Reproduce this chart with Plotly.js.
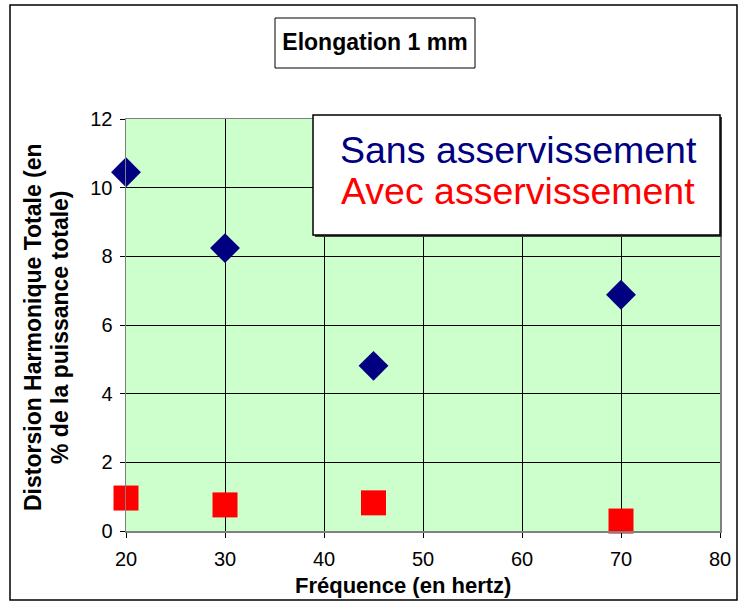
<!DOCTYPE html>
<html><head><meta charset="utf-8">
<script src="https://cdn.plot.ly/plotly-3.0.1.min.js"></script>
<style>html,body{margin:0;padding:0;background:#fff}</style>
</head><body><div id="chart" style="width:742px;height:610px"></div>
<script>
var frequences = [20, 30, 45, 70];
var sansAsserv = [10.45, 8.24, 4.81, 6.88];
var avecAsserv = [0.96, 0.76, 0.82, 0.29];
var xTicks = [20, 30, 40, 50, 60, 70, 80];
var yTicks = [0, 2, 4, 6, 8, 10, 12];
var serieNames = ['Sans asservissement', 'Avec asservissement'];
var serieColors = ['#000080', '#FF0000'];
var titleText = 'Elongation 1 mm';
var xTitle = 'Fréquence (en hertz)';
var yTitleLines = ['Distorsion Harmonique Totale (en', '% de la puissance totale)'];

var L = 126, R = 720, T = 119, B = 531, W = 742, H = 610;
function px(x) { return (x - L) / (R - L); }
function py(y) { return (B - y) / (B - T); }
var F = 'Liberation Sans, Arial, sans-serif';

var traces = [
  {x: frequences, y: sansAsserv, name: serieNames[0], type: 'scatter', mode: 'markers',
   marker: {symbol: 'diamond', size: 23, color: serieColors[0]}, cliponaxis: false},
  {x: frequences, y: avecAsserv, name: serieNames[1], type: 'scatter', mode: 'markers',
   marker: {symbol: 'square', size: 25, color: serieColors[1]}, cliponaxis: false}
];

var layout = {
  width: W, height: H,
  margin: {l: L, r: W - R, t: T, b: H - B, pad: 0},
  paper_bgcolor: '#FFFFFF', plot_bgcolor: '#CCFFCC',
  showlegend: false,
  font: {family: F, size: 21, color: '#000'},
  title: {text: '<b>' + titleText + '</b>', xref: 'paper', x: px(375), xanchor: 'center',
          yref: 'container', y: 1 - 42 / H, yanchor: 'middle',
          font: {family: F, size: 23, color: '#000'}},
  xaxis: {range: [20, 80], tickvals: xTicks, ticktext: xTicks.map(String),
          showgrid: true, gridcolor: '#000', gridwidth: 1,
          showline: true, linecolor: '#808080', linewidth: 1.5, mirror: true,
          ticks: 'outside', ticklen: 5, tickcolor: '#000', zeroline: false,
          ticklabelstandoff: 4,
          tickfont: {family: F, size: 20}, fixedrange: true},
  yaxis: {range: [0, 12], tickvals: yTicks, ticktext: yTicks.map(String),
          showgrid: true, gridcolor: '#000', gridwidth: 1,
          showline: true, linecolor: '#808080', linewidth: 1.5, mirror: true,
          ticks: 'outside', ticklen: 5, tickcolor: '#000', zeroline: false,
          ticklabelstandoff: 3,
          tickfont: {family: F, size: 20}, fixedrange: true},
  shapes: [
    {type: 'rect', xref: 'paper', yref: 'paper', x0: px(10), x1: px(737), y0: py(600), y1: py(5),
     line: {color: '#000', width: 1.5}, fillcolor: 'rgba(0,0,0,0)', layer: 'below'},
    {type: 'rect', xref: 'paper', yref: 'paper', x0: px(275), x1: px(475), y0: py(68), y1: py(18),
     line: {color: '#000', width: 1}, fillcolor: 'rgba(0,0,0,0)', layer: 'above'},
    {type: 'rect', xref: 'paper', yref: 'paper', x0: px(315), x1: px(722), y0: py(237), y1: py(117),
     line: {width: 0}, fillcolor: '#404040', layer: 'above'},
    {type: 'rect', xref: 'paper', yref: 'paper', x0: px(313), x1: px(720), y0: py(235), y1: py(115),
     line: {color: '#000', width: 1.5}, fillcolor: '#FFFFFF', layer: 'above'}
  ],
  annotations: [
    {text: serieNames[0], xref: 'paper', yref: 'paper', x: px(518), y: py(150),
     xanchor: 'center', yanchor: 'middle', showarrow: false,
     font: {family: F, size: 37.5, color: serieColors[0]}},
    {text: serieNames[1], xref: 'paper', yref: 'paper', x: px(518), y: py(191),
     xanchor: 'center', yanchor: 'middle', showarrow: false,
     font: {family: F, size: 37.5, color: serieColors[1]}},
    {text: '<b>' + xTitle + '</b>', xref: 'paper', yref: 'paper', x: px(403), y: py(585),
     xanchor: 'center', yanchor: 'middle', showarrow: false,
     font: {family: F, size: 22, color: '#000'}},
    {text: '<b>' + yTitleLines[0] + '</b>',
     xref: 'paper', yref: 'paper', x: px(33), y: py(327), textangle: -90,
     xanchor: 'center', yanchor: 'middle', showarrow: false,
     font: {family: F, size: 23, color: '#000'}},
    {text: '<b>' + yTitleLines[1] + '</b>',
     xref: 'paper', yref: 'paper', x: px(60), y: py(327), textangle: -90,
     xanchor: 'center', yanchor: 'middle', showarrow: false,
     font: {family: F, size: 23, color: '#000'}}
  ]
};

Plotly.newPlot('chart', traces, layout, {staticPlot: true, displayModeBar: false});
</script></body></html>
